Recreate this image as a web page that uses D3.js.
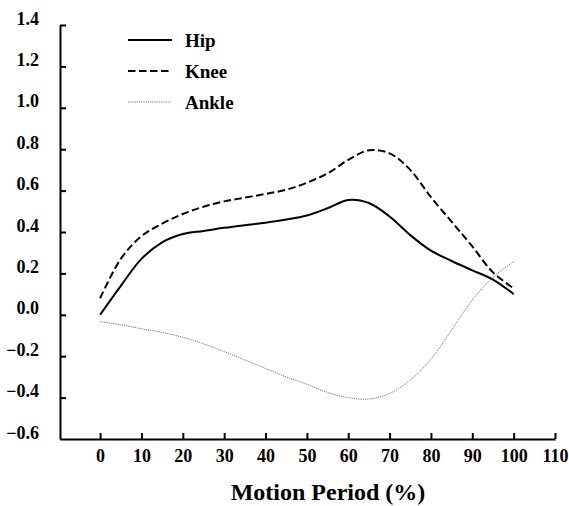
<!DOCTYPE html>
<html>
<head>
<meta charset="utf-8">
<script src="https://cdn.jsdelivr.net/npm/d3@7"></script>
<style>
  body { margin: 0; background: #fff; }
  svg text { font-family: "Liberation Serif", "Times New Roman", serif; font-weight: bold; fill: #000; }
</style>
</head>
<body>
<div id="chart"></div>
<script>
// Motion period (%) sample points
const period = [0, 5, 10, 15, 20, 25, 30, 35, 40, 45, 50, 55, 60, 65, 70, 75, 80, 85, 90, 95, 100];

// Joint curves
const hip = [0.0, 0.14, 0.27, 0.35, 0.39, 0.405, 0.42, 0.433, 0.445, 0.46, 0.48, 0.515, 0.555, 0.54, 0.475, 0.385, 0.31, 0.26, 0.215, 0.17, 0.10];
const knee = [0.08, 0.27, 0.38, 0.44, 0.487, 0.522, 0.548, 0.566, 0.584, 0.604, 0.638, 0.683, 0.748, 0.795, 0.78, 0.70, 0.568, 0.45, 0.33, 0.205, 0.128];
const ankle = [-0.033, -0.048, -0.067, -0.085, -0.109, -0.14, -0.178, -0.218, -0.259, -0.30, -0.336, -0.375, -0.40, -0.407, -0.38, -0.315, -0.215, -0.073, 0.071, 0.181, 0.257];

const xTicks = [0, 10, 20, 30, 40, 50, 60, 70, 80, 90, 100, 110];
const yTicks = [-0.6, -0.4, -0.2, 0.0, 0.2, 0.4, 0.6, 0.8, 1.0, 1.2, 1.4];

const seriesNames = ["Hip", "Knee", "Ankle"];
const seriesValues = [hip, knee, ankle];

// line styles per series
const styles = {
  Hip: { stroke: "#000", width: 2, dash: null },
  Knee: { stroke: "#000", width: 2, dash: "7.5,3.5" },
  Ankle: { stroke: "#777", width: 1, dash: "1.2,1" }
};

const width = 569, height = 506;

const svg = d3.select("#chart").append("svg")
  .attr("width", width)
  .attr("height", height);

const x = d3.scaleLinear().domain([-9.7, 110]).range([60, 555]);
const y = d3.scaleLinear().domain([-0.6, 1.4]).range([439, 25]);

// x axis, ticks pointing up
const xAxis = svg.append("g")
  .attr("transform", `translate(0,${y(-0.6)})`)
  .call(d3.axisBottom(x).tickValues(xTicks).tickFormat(d3.format("d"))
    .tickSizeInner(-6).tickSizeOuter(0).tickPadding(10));

// y axis, ticks pointing right
const yAxis = svg.append("g")
  .attr("transform", `translate(${x(-9.7)},0)`)
  .call(d3.axisLeft(y).tickValues(yTicks).tickFormat(d3.format(".1f"))
    .tickSizeInner(-6).tickSizeOuter(0).tickPadding(21));

[xAxis, yAxis].forEach(a => {
  a.select(".domain").attr("stroke", "#000").attr("stroke-width", 2);
  a.selectAll(".tick line").attr("stroke", "#000").attr("stroke-width", 2);
  a.selectAll(".tick text").style("font-size", "18px");
});
yAxis.selectAll(".tick text").attr("dy", "-0.05em");
xAxis.selectAll(".tick text").attr("dy", "0.71em");
// first y tick overlaps the x axis
yAxis.selectAll(".tick").filter(d => d === -0.6).select("line").remove();

// axis title
svg.append("text")
  .attr("x", 328)
  .attr("y", 500)
  .attr("text-anchor", "middle")
  .style("font-size", "24px")
  .text("Motion Period (%)");

const line = d3.line()
  .x(d => x(d[0]))
  .y(d => y(d[1]))
  .curve(d3.curveCatmullRom.alpha(0.5));

seriesNames.forEach((name, i) => {
  const pts = period.map((p, j) => [p, seriesValues[i][j]]);
  const st = styles[name];
  svg.append("path")
    .attr("d", line(pts))
    .attr("fill", "none")
    .attr("stroke", st.stroke)
    .attr("stroke-width", st.width)
    .attr("stroke-dasharray", st.dash);
});

// legend
const legend = svg.append("g").attr("transform", "translate(128,40)");
seriesNames.forEach((name, i) => {
  const st = styles[name];
  const row = legend.append("g").attr("transform", `translate(0,${i * 31})`);
  row.append("line")
    .attr("x1", 0).attr("x2", 44)
    .attr("y1", 0).attr("y2", 0)
    .attr("stroke", st.stroke)
    .attr("stroke-width", st.width)
    .attr("stroke-dasharray", st.dash);
  row.append("text")
    .attr("x", 57)
    .attr("y", 7)
    .style("font-size", "19px")
    .text(name);
});
</script>
</body>
</html>
